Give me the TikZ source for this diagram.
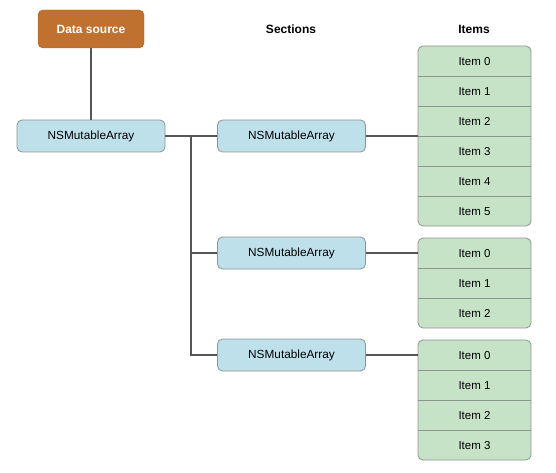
\documentclass[tikz,border=0pt]{standalone}
\usepackage{fontspec}
\setmainfont{Liberation Sans}
\definecolor{srcfill}{HTML}{C0712F}
\definecolor{srcdraw}{HTML}{A85F25}
\definecolor{arrfill}{HTML}{BEE0EB}
\definecolor{itemfill}{HTML}{C6E3C8}
\definecolor{boxdraw}{HTML}{8C9690}
\definecolor{linecol}{HTML}{555555}
\begin{document}
\begin{tikzpicture}[x=1pt,y=-1pt,
  srcbox/.style={draw=srcdraw,fill=srcfill,rounded corners=5pt,minimum width=106pt,minimum height=38pt,inner sep=0pt,text=white,font=\fontsize{12}{14}\selectfont\bfseries},
  arrbox/.style={draw=boxdraw,line width=0.8pt,fill=arrfill,rounded corners=5pt,minimum width=148pt,minimum height=32pt,inner sep=0pt,font=\fontsize{11.8}{14}\selectfont},
  itemcell/.style={minimum width=113pt,minimum height=30pt,inner sep=0pt,font=\fontsize{11.5}{14}\selectfont},
  header/.style={font=\fontsize{12}{14}\selectfont\bfseries},
  conn/.style={draw=linecol,line width=1.3pt},
  sep/.style={draw=boxdraw,line width=0.9pt},
  frame/.style={draw=boxdraw,line width=0.8pt,rounded corners=5pt}]
\useasboundingbox (0,0) rectangle (556,473);
\node[srcbox] (ds) at (91,29) {Data source};
\node[arrbox] (root) at (91,136) {NSMutableArray};
\node[header] (hs) at (291,29) {Sections};
\node[header] (hi) at (474,29) {Items};
\node[arrbox] (s1) at (291.5,136) {NSMutableArray};
\node[arrbox] (s2) at (291.5,253) {NSMutableArray};
\node[arrbox] (s3) at (291.5,355) {NSMutableArray};
% group 1
\fill[itemfill,rounded corners=5pt] (418,46) rectangle (531,226);
\foreach \i in {0,...,5} {\node[itemcell] (a\i) at (474.5,61.5+30*\i) {Item \i};}
\foreach \i in {1,...,5} {\draw[sep] (418,46+30*\i) -- (531,46+30*\i);}
\draw[frame] (418,46) rectangle (531,226);
\coordinate (g1) at (418,136);
% group 2
\fill[itemfill,rounded corners=5pt] (418,238) rectangle (531,328);
\foreach \i in {0,...,2} {\node[itemcell] (b\i) at (474.5,253.5+30*\i) {Item \i};}
\foreach \i in {1,...,2} {\draw[sep] (418,238+30*\i) -- (531,238+30*\i);}
\draw[frame] (418,238) rectangle (531,328);
\coordinate (g2) at (418,253);
% group 3
\fill[itemfill,rounded corners=5pt] (418,340) rectangle (531,460);
\foreach \i in {0,...,3} {\node[itemcell] (c\i) at (474.5,355.5+30*\i) {Item \i};}
\foreach \i in {1,...,3} {\draw[sep] (418,340+30*\i) -- (531,340+30*\i);}
\draw[frame] (418,340) rectangle (531,460);
\coordinate (g3) at (418,355);
% connectors
\draw[conn] (ds.south) -- (root.north);
\coordinate (j1) at (191,136);
\coordinate (j2) at (191,253);
\coordinate (j3) at (191,355);
\draw[conn] (root.east) -- (j1) -- (s1.west);
\draw[conn] (j1) -- (j3) -- (s3.west);
\draw[conn] (j2) -- (s2.west);
\draw[conn] (s1.east) -- (g1);
\draw[conn] (s2.east) -- (g2);
\draw[conn] (s3.east) -- (g3);
\end{tikzpicture}
\end{document}
